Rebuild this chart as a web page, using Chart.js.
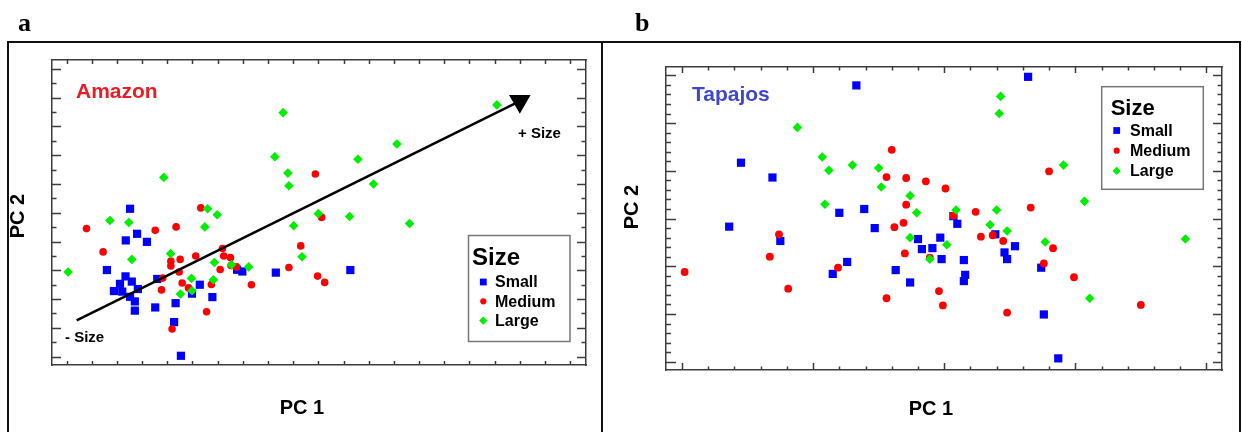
<!DOCTYPE html>
<html>
<head>
<meta charset="utf-8">
<script src="https://cdn.jsdelivr.net/npm/chart.js@4.4.1/dist/chart.umd.min.js"></script>
<style>
  html, body { margin: 0; padding: 0; background: #fff; }
  body { width: 1242px; height: 432px; position: relative; overflow: hidden; }
  canvas { position: absolute; top: 0; }
  #chartA { left: 0; }
  #chartB { left: 602px; }
  .frame { position: absolute; top: 41px; height: 420px; border: 2px solid #111; box-sizing: border-box; }
</style>
</head>
<body>
<canvas id="chartA" width="602" height="432"></canvas>
<canvas id="chartB" width="640" height="432"></canvas>
<div class="frame" style="left:7px;width:596px"></div>
<div class="frame" style="left:601px;width:640px"></div>
<script>
// ---- panel a: Amazon ----
const amazonSmall = [[-7.48,0.14],[-7.65,-0.96],[-7.20,-0.73],[-6.81,-1.01],[-8.40,-1.99],[-7.66,-2.21],
  [-7.41,-2.39],[-7.88,-2.47],[-8.12,-2.72],[-7.79,-2.74],[-7.17,-2.65],[-7.48,-2.92],[-7.29,-3.08],
  [-7.29,-3.40],[-6.40,-2.30],[-6.48,-3.29],[-5.67,-3.14],[-5.73,-3.80],[-5.46,-4.97],[-4.71,-2.50],
  [-5.02,-2.81],[-4.21,-2.93],[-3.23,-1.98],[-3.02,-2.04],[-1.69,-2.08],[1.27,-1.99]];
const amazonMedium = [[-9.21,-0.55],[-8.55,-1.36],[-6.48,-0.61],[-5.65,-0.49],[-4.67,0.17],[-0.12,1.35],
  [0.13,-0.16],[-3.81,-1.24],[-4.87,-1.50],[-5.49,-1.62],[-5.86,-1.68],[-5.86,-1.85],[-3.76,-1.50],
  [-3.49,-1.56],[-3.47,-1.83],[-3.25,-1.88],[-3.90,-1.97],[-5.53,-2.06],[-6.18,-2.27],[-5.41,-2.44],
  [-4.25,-2.49],[-2.66,-2.50],[-6.23,-2.68],[-5.16,-2.61],[-4.44,-3.44],[-5.81,-4.04],[-0.70,-1.15],
  [-1.17,-1.90],[-0.03,-2.20],[0.25,-2.42]];
const amazonLarge = [[-9.94,-2.06],[-1.40,3.48],[-1.73,1.95],[-1.21,1.38],[-1.17,0.94],[-6.14,1.23],
  [-8.28,-0.27],[-7.53,-0.34],[-4.40,0.14],[-4.02,-0.07],[-4.51,-0.49],[-0.98,-0.45],[0.00,-0.03],
  [-7.41,-1.62],[-5.87,-1.42],[-4.13,-1.73],[-3.45,-1.81],[-2.77,-1.88],[-0.65,-1.53],[-5.04,-2.28],
  [-4.17,-2.33],[-5.02,-2.71],[-5.48,-2.82],[7.09,3.75],[3.12,2.39],[1.57,1.86],[2.19,1.00],
  [1.24,-0.13],[3.62,-0.37]];
const amazonArrow = [[-9.60,-3.74],[8.00,3.88]];
const xTicksA = [-10,-9,-8,-7,-6,-5,-4,-3,-2,-1,0,1,2,3,4,5,6,7,8,9,10];
const yTicksA = [-5,-4.5,-4,-3.5,-3,-2.5,-2,-1.5,-1,-0.5,0,0.5,1,1.5,2,2.5,3,3.5,4,4.5,5];

// ---- panel b: Tapajos ----
const tapajosSmall = [[-0.67,2.79],[-1.55,1.17],[-1.31,0.86],[-1.64,-0.17],[-1.25,-0.47],[-0.80,0.12],
  [-0.61,0.20],[-0.53,-0.20],[-0.74,-0.91],[-0.85,-1.16],[-0.37,-1.08],[-0.26,-1.34],[-0.20,-0.43],
  [-0.17,-0.64],[-0.09,-0.62],[-0.03,-0.40],[-0.02,-0.85],[0.07,0.05],[0.10,-0.11],[0.64,2.97],
  [0.39,-0.33],[0.46,-0.71],[0.48,-0.85],[0.54,-0.58],[0.15,-0.87],[0.16,-1.18],[0.15,-1.31],
  [0.74,-1.03],[0.76,-2.01],[0.87,-2.93]];
const tapajosMedium = [[-1.98,-1.12],[-0.40,1.44],[-0.44,0.87],[-0.29,0.85],[-0.14,0.78],[0.01,0.63],
  [-0.29,0.29],[-0.31,-0.09],[-0.38,-0.18],[-1.26,-0.33],[-1.33,-0.80],[-1.19,-1.47],[-0.81,-1.03],
  [-0.30,-0.73],[-0.11,-0.82],[-0.44,-1.67],[-0.04,-1.52],[-0.01,-1.82],[0.07,0.06],[0.80,0.99],
  [0.24,0.14],[0.28,-0.38],[0.37,-0.35],[0.45,-0.47],[0.66,0.23],[0.83,-0.62],[0.76,-0.94],
  [0.99,-1.23],[0.48,-1.97],[1.50,-1.81]];
const tapajosLarge = [[-1.12,1.91],[-0.93,1.29],[-0.88,1.01],[-0.70,1.12],[-0.50,1.06],[-0.48,0.66],
  [-0.91,0.30],[-0.26,0.48],[-0.21,0.12],[-0.26,-0.40],[0.02,-0.55],[-0.11,-0.85],[0.09,0.18],
  [0.43,2.56],[0.42,2.20],[0.91,1.12],[1.07,0.36],[0.40,0.18],[0.35,-0.13],[0.48,-0.26],
  [0.77,-0.49],[1.11,-1.67],[1.84,-0.43]];
const xTicksB = [-2,-1.8,-1.6,-1.4,-1.2,-1,-0.8,-0.6,-0.4,-0.2,0,0.2,0.4,0.6,0.8,1,1.2,1.4,1.6,1.8,2];
const yTicksB = [-3,-2.8,-2.6,-2.4,-2.2,-2,-1.8,-1.6,-1.4,-1.2,-1,-0.8,-0.6,-0.4,-0.2,0,
  0.2,0.4,0.6,0.8,1,1.2,1.4,1.6,1.8,2,2.2,2.4,2.6,2.8,3];

const sizeLabels = ['Small', 'Medium', 'Large'];
const BLUE = '#0000ff', RED = '#ff0000', GREEN = '#00ee00';
const FONT = '"Liberation Sans", Arial, sans-serif';
const AXIS_GRAY = '#3c3c3c';

const pts = arr => arr.map(([x, y]) => ({ x, y }));

// tick marks pointing into the plot, on all four sides
const innerTicks = {
  id: 'innerTicks',
  beforeDatasetsDraw(chart, args, opts) {
    const { ctx, chartArea: a } = chart;
    ctx.save();
    ctx.strokeStyle = opts.color;
    ctx.lineWidth = opts.width;
    Object.values(chart.scales).forEach(s => {
      const cfg = opts[s.id];
      if (!cfg) return;
      s.ticks.forEach(t => {
        const p = Math.round(s.getPixelForValue(t.value)) + 0.5;
        const q = t.value / cfg.major;
        const len = Math.abs(q - Math.round(q)) < 1e-6 ? cfg.majorLen : cfg.minorLen;
        ctx.beginPath();
        if (s.position === 'bottom') { ctx.moveTo(p, a.bottom); ctx.lineTo(p, a.bottom - len); }
        else if (s.position === 'top') { ctx.moveTo(p, a.top); ctx.lineTo(p, a.top + len); }
        else if (s.position === 'left') { ctx.moveTo(a.left, p); ctx.lineTo(a.left + len, p); }
        else { ctx.moveTo(a.right, p); ctx.lineTo(a.right - len, p); }
        ctx.stroke();
      });
    });
    ctx.restore();
  }
};

function drawMarker(ctx, style, x, y, r, color) {
  ctx.fillStyle = color;
  ctx.beginPath();
  if (style === 'rect') ctx.rect(x - r, y - r, 2 * r, 2 * r);
  else if (style === 'circle') ctx.arc(x, y, r, 0, Math.PI * 2);
  else { ctx.moveTo(x, y - r); ctx.lineTo(x + r, y); ctx.lineTo(x, y + r); ctx.lineTo(x - r, y); ctx.closePath(); }
  ctx.fill();
}

// free texts and the boxed "Size" legend
const panelText = {
  id: 'panelText',
  afterDraw(chart, args, opts) {
    const ctx = chart.ctx;
    ctx.save();
    opts.texts.forEach(t => {
      ctx.save();
      ctx.translate(t.x, t.y);
      if (t.rotate) ctx.rotate(t.rotate * Math.PI / 180);
      ctx.font = t.font;
      ctx.fillStyle = t.color || '#000';
      ctx.textAlign = t.align || 'left';
      ctx.textBaseline = t.baseline || 'alphabetic';
      ctx.fillText(t.text, 0, 0);
      ctx.restore();
    });
    const L = opts.legend;
    ctx.strokeStyle = '#777';
    ctx.lineWidth = 1.5;
    ctx.strokeRect(L.x, L.y, L.w, L.h);
    ctx.fillStyle = '#000';
    ctx.font = L.titleFont;
    ctx.textBaseline = 'alphabetic';
    ctx.fillText(L.title, L.titleX, L.titleY);
    ctx.font = L.itemFont;
    ctx.textBaseline = 'middle';
    chart.data.datasets.filter(d => d.label).forEach((d, i) => {
      const y = L.itemY + i * L.itemGap;
      drawMarker(ctx, d.pointStyle, L.markerX, y, L.markerR[i], d.backgroundColor);
      ctx.fillStyle = '#000';
      ctx.fillText(d.label, L.textX, y + 1);
    });
    ctx.restore();
  }
};

function axis(position, min, max, ticks) {
  return {
    type: 'linear', position, min, max, bounds: 'data',
    afterBuildTicks: s => { s.ticks = ticks.map(v => ({ value: v })); },
    ticks: { display: false },
    grid: { display: false, drawTicks: false, tickLength: 0 },
    border: { display: true, color: AXIS_GRAY, width: 1.5 }
  };
}

function sizeSets(small, medium, large, r) {
  return [
    { label: sizeLabels[0], data: pts(small), pointStyle: 'rect', pointRadius: r[0], backgroundColor: BLUE, borderWidth: 0, order: 3 },
    { label: sizeLabels[1], data: pts(medium), pointStyle: 'circle', pointRadius: r[1], backgroundColor: RED, borderWidth: 0, order: 2 },
    { label: sizeLabels[2], data: pts(large), pointStyle: 'rectRot', pointRadius: r[2], backgroundColor: GREEN, borderWidth: 0, order: 1 }
  ];
}

const common = {
  responsive: false,
  animation: false,
  devicePixelRatio: 1,
  events: []
};

new Chart(document.getElementById('chartA'), {
  type: 'scatter',
  data: {
    datasets: [
      ...sizeSets(amazonSmall, amazonMedium, amazonLarge, [5.8, 3.8, 4.8]),
      { label: '', data: pts(amazonArrow), showLine: true, borderColor: '#000', borderWidth: 2.5,
        backgroundColor: '#000', pointStyle: 'triangle', pointRadius: [0, 10], pointRotation: [0, 180], order: 0 }
    ]
  },
  options: {
    ...common,
    layout: { autoPadding: false, padding: { left: 52, top: 60, right: 16, bottom: 67 } },
    scales: {
      x: axis('bottom', -10.58, 10.63, xTicksA),
      x2: axis('top', -10.58, 10.63, xTicksA),
      y: axis('left', -5.29, 5.31, yTicksA),
      y2: axis('right', -5.29, 5.31, yTicksA)
    },
    plugins: {
      legend: { display: false },
      tooltip: { enabled: false },
      innerTicks: {
        color: AXIS_GRAY, width: 1.5,
        x: { major: 1, majorLen: 4, minorLen: 4 },
        x2: { major: 1, majorLen: 4, minorLen: 4 },
        y: { major: 1, majorLen: 9, minorLen: 4.5 },
        y2: { major: 1, majorLen: 9, minorLen: 4.5 }
      },
      panelText: {
        texts: [
          { text: 'a', x: 18, y: 31, font: 'bold 26px "Liberation Serif", serif' },
          { text: 'Amazon', x: 76, y: 98, font: 'bold 21px ' + FONT, color: '#ed1c24' },
          { text: '- Size', x: 65, y: 341.5, font: 'bold 15px ' + FONT },
          { text: '+ Size', x: 518, y: 138, font: 'bold 15px ' + FONT },
          { text: 'PC 1', x: 302, y: 408, font: 'bold 20px ' + FONT, align: 'center', baseline: 'middle' },
          { text: 'PC 2', x: 18, y: 216, font: 'bold 20px ' + FONT, align: 'center', baseline: 'middle', rotate: -90 }
        ],
        legend: {
          x: 468.5, y: 235.5, w: 101.5, h: 106,
          title: 'Size', titleFont: 'bold 24px ' + FONT, titleX: 472, titleY: 265,
          itemFont: 'bold 16px ' + FONT, itemY: 282, itemGap: 19.3,
          markerX: 483.3, markerR: [3.4, 3.1, 4.2], textX: 495
        }
      }
    }
  },
  plugins: [innerTicks, panelText]
});

new Chart(document.getElementById('chartB'), {
  type: 'scatter',
  data: { datasets: sizeSets(tapajosSmall, tapajosMedium, tapajosLarge, [5.8, 3.9, 4.8]) },
  options: {
    ...common,
    layout: { autoPadding: false, padding: { left: 64, top: 67, right: 20, bottom: 62 } },
    scales: {
      x: axis('bottom', -2.122, 2.119, xTicksB),
      x2: axis('top', -2.122, 2.119, xTicksB),
      y: axis('left', -3.174, 3.176, yTicksB),
      y2: axis('right', -3.174, 3.176, yTicksB)
    },
    plugins: {
      legend: { display: false },
      tooltip: { enabled: false },
      innerTicks: {
        color: AXIS_GRAY, width: 1.5,
        x: { major: 1, majorLen: 7, minorLen: 3.5 },
        x2: { major: 1, majorLen: 6, minorLen: 3.5 },
        y: { major: 1, majorLen: 10, minorLen: 5 },
        y2: { major: 1, majorLen: 9, minorLen: 4.5 }
      },
      panelText: {
        texts: [
          { text: 'b', x: 33, y: 31, font: 'bold 26px "Liberation Serif", serif' },
          { text: 'Tapajos', x: 90, y: 101, font: 'bold 21px ' + FONT, color: '#3f48cc' },
          { text: 'PC 1', x: 329, y: 409, font: 'bold 20px ' + FONT, align: 'center', baseline: 'middle' },
          { text: 'PC 2', x: 30, y: 207, font: 'bold 20px ' + FONT, align: 'center', baseline: 'middle', rotate: -90 }
        ],
        legend: {
          x: 499.7, y: 86.7, w: 101.6, h: 102.6,
          title: 'Size', titleFont: 'bold 22px ' + FONT, titleX: 508.7, titleY: 115,
          itemFont: 'bold 16px ' + FONT, itemY: 130.5, itemGap: 20.2,
          markerX: 514.7, markerR: [3.4, 3.1, 4.2], textX: 528
        }
      }
    }
  },
  plugins: [innerTicks, panelText]
});
</script>
</body>
</html>
